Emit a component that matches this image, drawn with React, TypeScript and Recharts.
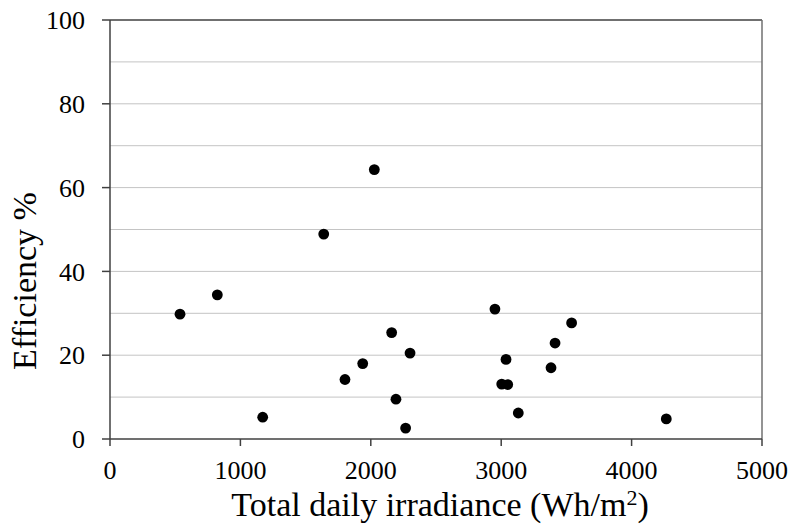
import { ReferenceLine, Scatter, ScatterChart, XAxis, YAxis, Label } from "recharts";

const irradiance = [
  537, 823, 1171, 1639, 1802, 1938, 2027, 2160, 2193, 2267, 2301,
  2952, 3004, 3037, 3050, 3131, 3382, 3413, 3540, 4266,
];
const efficiency = [
  29.8, 34.4, 5.2, 48.9, 14.2, 18.0, 64.3, 25.4, 9.5, 2.6, 20.5,
  31.0, 13.1, 19.0, 13.0, 6.2, 17.0, 22.9, 27.7, 4.8,
];
const xTicks = [0, 1000, 2000, 3000, 4000, 5000];
const yTicks = [0, 20, 40, 60, 80, 100];
const gridLines = [10, 20, 30, 40, 50, 60, 70, 80, 90];

const font = "Liberation Serif";
const axisColor = "#404040";

const points = irradiance.map((x, i) => ({ x, y: efficiency[i] }));

function XTitle(props: any) {
  const { x, y, width } = props.viewBox;
  return (
    <text x={x + width / 2 + 4} y={y + 77} textAnchor="middle" style={{ fontFamily: font }} fontSize={34} fill="#000">
      Total daily irradiance (Wh/m
      <tspan dy={-11} fontSize={22}>2</tspan>
      <tspan dy={11}>)</tspan>
    </text>
  );
}

function YTitle() {
  const cx = 36;
  const cy = 281;
  return (
    <text
      x={cx}
      y={cy}
      transform={`rotate(-90 ${cx} ${cy})`}
      textAnchor="middle"
      style={{ fontFamily: font }}
      fontSize={34}
      fill="#000"
    >
      Efficiency %
    </text>
  );
}

const tickStyle = { fontSize: 26, fill: "#000", style: { fontFamily: font } };

export default function App() {
  return (
    <div style={{ position: "absolute", left: 0, top: 0, background: "#fff", fontFamily: font }}>
      <ScatterChart width={793} height={527} margin={{ top: 20, right: 31, left: 0, bottom: 0 }}>
        {gridLines.map((v) => (
          <ReferenceLine key={v} y={v} stroke="#c4c4c4" strokeWidth={1} />
        ))}
        <ReferenceLine y={100} stroke={axisColor} strokeWidth={1.5} />
        <ReferenceLine x={5000} stroke="#707070" strokeWidth={1.5} />
        <XAxis
          type="number"
          dataKey="x"
          domain={[0, 5000]}
          ticks={xTicks}
          height={88}
          tickSize={7}
          tickMargin={15}
          stroke={axisColor}
          strokeWidth={1.5}
          tick={tickStyle}
          label={<Label content={XTitle} />}
        />
        <YAxis
          type="number"
          dataKey="y"
          domain={[0, 100]}
          ticks={yTicks}
          width={110}
          tickSize={8}
          tickMargin={17}
          stroke={axisColor}
          strokeWidth={1.5}
          tick={tickStyle}
          label={<Label content={YTitle} />}
        />
        <Scatter
          data={points}
          isAnimationActive={false}
          shape={(p: any) => <circle cx={p.cx} cy={p.cy} r={5.4} fill="#000" />}
        />
      </ScatterChart>
    </div>
  );
}
